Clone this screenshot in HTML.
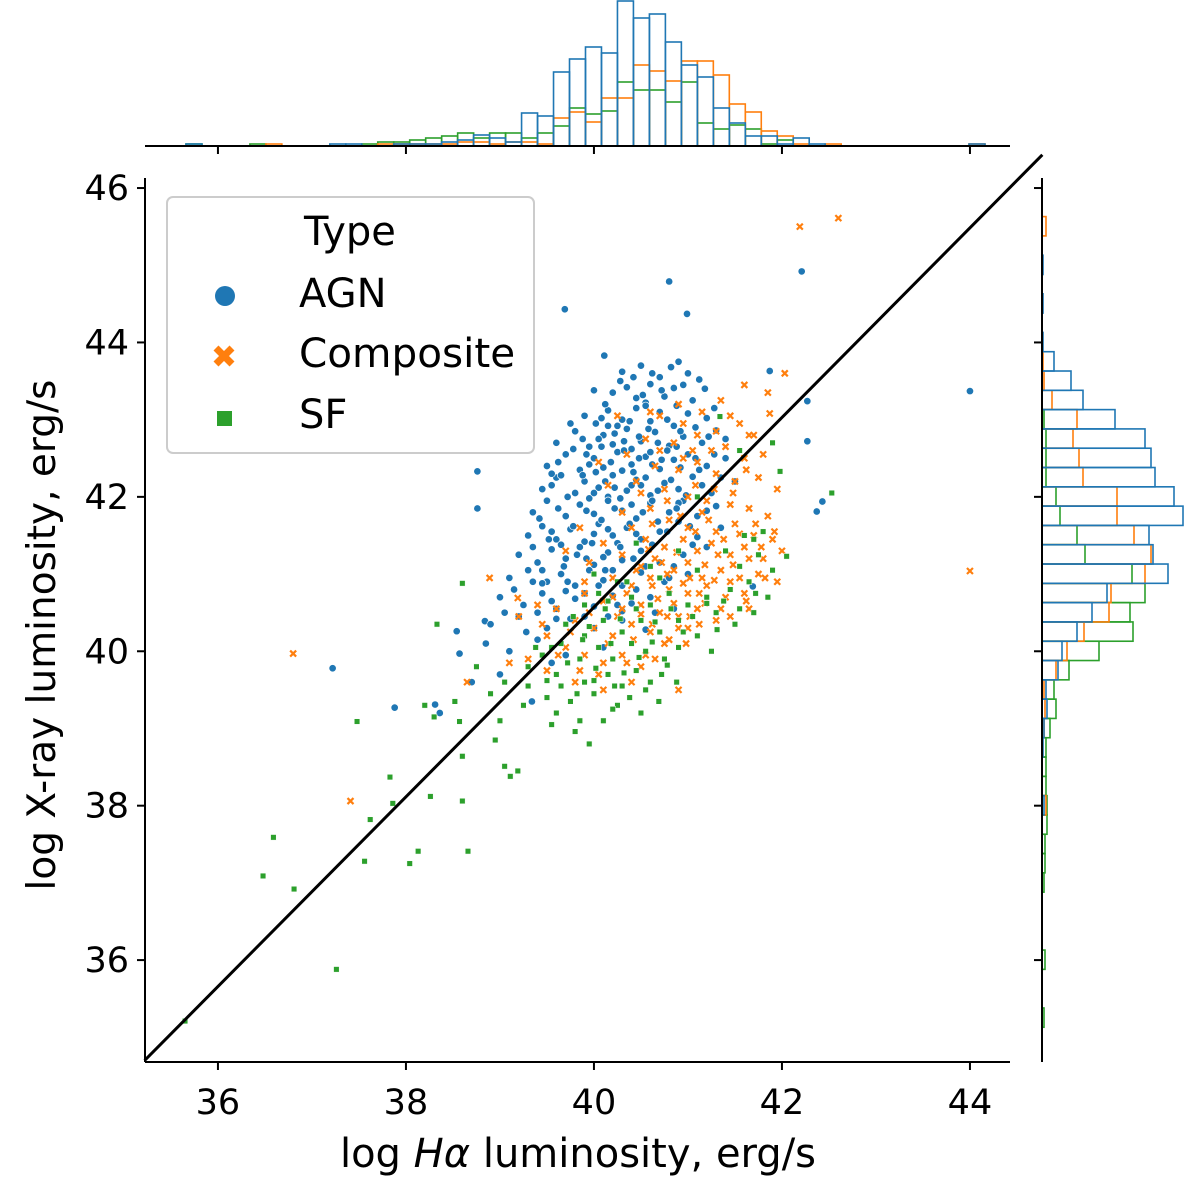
<!DOCTYPE html>
<html><head><meta charset="utf-8"><style>
html,body{margin:0;padding:0;background:#fff;}
svg text{font-family:"DejaVu Sans","Liberation Sans",sans-serif;fill:#000;}
</style></head><body>
<svg id="chart" width="1200" height="1180" viewBox="0 0 1200 1180" xmlns="http://www.w3.org/2000/svg">
<g id="tophist"></g>
<g id="righthist"></g>
<g id="points"></g>
<g id="axes"></g>
<g id="legend">
<rect x="167" y="197" width="367" height="256" rx="6" fill="#fff" fill-opacity="0.8" stroke="#cccccc" stroke-width="2"/>
<text x="304" y="245" font-size="40">Type</text>
<g><circle cx="225" cy="296" r="10" fill="#1f77b4"/><text x="299" y="307" font-size="40">AGN</text></g>
<g><path d="M216,348 L232,364 M232,348 L216,364" stroke="#ff7f0e" stroke-width="7"/><text x="299" y="367" font-size="40.5">Composite</text></g>
<g><rect x="217" y="411" width="15" height="15" fill="#2ca02c"/><text x="299" y="428" font-size="40">SF</text></g>
</g>
</svg>
<script>
// ---------- data ----------
const xTicks=[36,38,40,42,44];
const yTicks=[36,38,40,42,44,46];
const lineXs=[35.22,44.77];
const lineYs=[34.70,46.43];
// top histogram (x bins start 35.66, width 0.17), counts per bin
const topBinStart=35.66, topBinWidth=0.17;
const topAGN=[2,0,0,0,0,0,0,0,0,2,2,0,0,2,2,2,4,6,11,8,4,33,30,74,87,99,93,145,128,132,104,81,69,38,23,10,10,2,8,2,0,0,0,0,0,0,0,0,0,2];
const topComp=[0,0,0,0,0,2,0,0,0,0,0,0,2,2,2,2,2,4,4,2,4,4,2,28,34,24,48,48,81,75,65,85,85,71,42,34,15,10,2,0,2,0,0,0,0,0,0,0,0,2];
const topSF=[2,0,0,0,2,0,0,0,0,0,0,2,4,4,6,8,10,13,8,13,13,8,13,20,38,32,35,64,56,56,44,64,23,17,21,17,2,6,0,0,0,0,0,0,0,0,0,0,0,0];
// right histogram (y bins start 35.13, width 0.25)
const rightBinStart=35.13, rightBinWidth=0.25;
const rightAGN=[0,0,0,0,0,0,0,0,0,0,0,2,0,0,1,2,5,4,16,20,35,50,65,126,111,107,141,132,113,109,103,73,41,29,12,1,0,1,0,1,0,0];
const rightComp=[0,0,0,0,0,0,0,0,0,0,0,4,0,0,0,2,3,2,14,25,42,67,69,103,109,92,75,75,41,37,31,35,10,2,1,0,0,0,0,0,0,4];
const rightSF=[2,0,0,3,0,0,0,2,3,3,5,5,4,4,4,8,14,12,27,57,91,88,103,90,43,35,18,14,4,4,4,2,0,0,0,0,0,0,0,0,0,0];
// scatter points [log Halpha, log X-ray]
const agnPts=[[39.69,44.43],[40.80,44.79],[40.99,44.37],[40.11,43.83],[42.21,44.92],[44.0,43.37],[38.76,42.33],[38.76,41.85],[37.22,39.78],[37.88,39.27],[38.31,39.31],[38.36,39.20],[42.27,42.72],[42.27,43.24],[42.43,41.94],[42.37,41.81],[39.34,39.35],[38.57,39.97],[38.54,40.26],[38.84,40.39],[41.69,40.84],[41.87,43.63],
[40.3,43.62],[40.5,43.7],[40.7,43.55],[40.82,43.68],[41.0,43.6],[41.12,43.52],[40.9,43.75],
[40.2,43.35],[40.35,43.42],[40.45,43.28],[40.6,43.46],[40.75,43.3],[40.85,43.41],[41.05,43.25],[40.0,43.38],[40.55,43.22],
[39.9,43.05],[40.02,42.95],[40.15,43.12],[40.3,43.0],[40.45,43.15],[40.6,42.98],[40.7,43.1],[40.85,42.92],[41.0,43.08],[41.2,43.02],[40.25,42.92],[40.55,43.18],
[39.6,42.7],[39.8,42.85],[39.95,42.65],[40.1,42.8],[40.2,42.68],[40.35,42.88],[40.5,42.72],[40.65,42.84],[40.8,42.66],[40.95,42.78],[41.15,42.7],[41.3,42.86],[40.4,42.62],[40.05,42.75],
[39.5,42.4],[39.7,42.55],[39.85,42.35],[40.0,42.5],[40.1,42.38],[40.25,42.58],[40.4,42.42],[40.55,42.52],[40.7,42.36],[40.85,42.48],[41.0,42.55],[41.2,42.4],[41.4,42.5],[39.95,42.42],[40.3,42.34],[40.6,42.58],
[39.45,42.1],[39.6,42.25],[39.8,42.05],[39.9,42.2],[40.05,42.12],[40.2,42.28],[40.35,42.08],[40.45,42.22],[40.6,42.02],[40.75,42.18],[40.9,42.1],[41.05,42.26],[41.25,42.05],[41.5,42.2],[40.15,42.0],[40.5,42.15],
[39.35,41.8],[39.5,41.95],[39.7,41.75],[39.85,41.9],[40.0,41.78],[40.15,41.95],[40.3,41.82],[40.45,41.72],[40.6,41.92],[40.8,41.8],[40.95,41.95],[41.1,41.75],[41.3,41.88],[39.95,41.98],[40.4,41.9],
[39.3,41.5],[39.45,41.62],[39.6,41.45],[39.75,41.58],[39.9,41.42],[40.05,41.65],[40.2,41.5],[40.35,41.6],[40.5,41.45],[40.7,41.55],[40.9,41.68],[41.1,41.48],[41.35,41.6],[40.0,41.52],[40.25,41.4],
[39.2,41.25],[39.4,41.15],[39.55,41.32],[39.7,41.2],[39.85,41.35],[40.0,41.12],[40.15,41.28],[40.3,41.18],[40.5,41.3],[40.7,41.15],[40.95,41.25],[41.2,41.35],[39.65,41.38],[40.1,41.22],
[39.1,40.95],[39.3,41.05],[39.5,40.9],[39.65,41.0],[39.8,40.85],[39.95,41.05],[40.1,40.92],[40.3,40.85],[40.5,41.02],[40.75,40.9],[41.0,41.0],[39.45,40.88],[40.2,41.05],
[39.0,40.7],[39.25,40.6],[39.45,40.75],[39.6,40.55],[39.8,40.68],[40.0,40.58],[40.2,40.72],[40.4,40.62],[40.6,40.7],[40.85,40.55],[39.7,40.78],[40.3,40.52],
[38.9,40.35],[39.2,40.45],[39.5,40.3],[39.75,40.42],[40.0,40.3],[40.3,40.4],[40.55,40.28],[39.9,40.45],
[38.85,40.1],[39.1,40.0],[39.4,40.15],[39.7,39.95],[40.1,40.05],[39.55,39.85],[39.0,39.7],[38.7,39.6],
[40.42,43.55],[40.62,43.6],[40.95,43.45],[41.18,43.4],[40.28,43.5],[40.72,43.38],[40.12,43.2],[40.52,43.32],[40.88,43.18],[41.28,43.15],
[39.75,42.95],[40.08,43.02],[40.22,42.82],[40.38,42.98],[40.58,42.88],[40.78,43.0],[40.92,42.85],[41.08,42.9],[41.22,42.78],[39.88,42.75],[40.48,42.78],[40.68,42.7],[40.32,42.72],[40.15,42.92],[41.4,42.75],
[39.62,42.45],[39.78,42.62],[39.92,42.55],[40.08,42.65],[40.18,42.45],[40.32,42.6],[40.48,42.5],[40.62,42.42],[40.78,42.6],[40.92,42.38],[41.08,42.5],[41.28,42.55],[39.55,42.3],[40.42,42.32],[40.72,42.48],[40.02,42.32],[40.88,42.65],[41.12,42.35],
[39.55,42.15],[39.72,42.0],[39.88,42.28],[40.0,42.05],[40.12,42.2],[40.28,41.98],[40.4,42.15],[40.55,42.25],[40.68,42.08],[40.82,42.22],[40.98,42.02],[41.15,42.15],[41.35,42.25],[39.65,42.28],[40.22,42.12],[40.62,41.95],[40.9,41.92],
[39.42,41.72],[39.62,41.85],[39.78,41.62],[39.92,41.82],[40.08,41.7],[40.22,41.85],[40.38,41.65],[40.52,41.8],[40.68,41.68],[40.88,41.85],[41.02,41.62],[41.2,41.82],[39.55,41.55],[40.15,41.58],[40.45,41.52],[40.78,41.55],
[39.35,41.35],[39.52,41.45],[39.68,41.1],[39.82,41.25],[39.98,41.4],[40.12,41.05],[40.28,41.35],[40.42,41.2],[40.62,41.38],[40.85,41.1],[41.05,41.38],[39.45,41.05],[39.92,41.2],[40.55,41.1],
[39.15,40.8],[39.35,40.9],[39.55,40.65],[39.72,40.9],[39.9,40.75],[40.05,40.85],[40.25,40.6],[40.45,40.8],[40.65,40.5],[40.8,40.95],[39.4,40.5],[39.6,40.42],[40.15,40.45],[39.28,40.25],[39.05,40.5]];
const compPts=[[36.80,39.97],[37.41,38.06],[42.19,45.5],[42.60,45.61],[44.0,41.04],[42.03,43.6],[41.87,43.08],[38.89,40.95],[39.19,40.69],[38.65,39.6],[39.1,39.85],[41.85,43.35],[41.6,43.45],[41.35,43.25],
[40.7,43.05],[40.95,42.95],[41.15,43.1],[41.3,42.85],[41.55,42.95],[41.7,42.8],[40.55,42.75],[40.85,42.7],[41.05,42.6],[41.4,42.65],[41.6,42.5],[41.8,42.55],
[40.65,42.4],[40.9,42.35],[41.1,42.45],[41.3,42.3],[41.5,42.2],[41.75,42.25],[41.95,42.1],[40.45,42.2],[40.75,42.1],[41.0,42.0],[41.2,41.95],[41.45,41.9],[41.65,41.85],[41.85,41.75],
[40.6,41.85],[40.8,41.7],[41.0,41.6],[41.15,41.8],[41.3,41.55],[41.5,41.65],[41.7,41.5],[41.9,41.45],[40.4,41.6],[40.55,41.45],[40.75,41.35],[40.95,41.45],[41.1,41.3],[41.25,41.4],[41.45,41.25],[41.6,41.35],[41.8,41.2],[42.0,41.3],
[40.3,41.25],[40.5,41.1],[40.65,41.2],[40.85,41.05],[41.0,41.15],[41.15,40.95],[41.35,41.05],[41.55,40.95],[41.75,41.0],[40.2,40.95],[40.4,40.85],[40.6,40.95],[40.8,40.8],[41.0,40.75],[41.2,40.85],[41.4,40.7],[41.6,40.75],
[39.9,40.75],[40.1,40.65],[40.3,40.55],[40.5,40.6],[40.7,40.5],[40.9,40.45],[41.1,40.55],[41.3,40.4],[39.6,40.55],[39.8,40.4],[40.0,40.3],[40.2,40.2],[40.4,40.35],[40.6,40.25],[40.8,40.15],[41.0,40.3],
[39.5,40.2],[39.7,40.05],[39.9,39.95],[40.1,39.85],[40.3,39.95],[40.5,39.8],[39.3,39.9],[39.5,39.75],[39.8,39.6],[40.1,39.5],[40.4,39.6],[40.65,39.9],[39.2,40.45],[39.4,40.6],[39.7,41.3],[39.85,41.6],[40.05,42.45],[40.25,43.05],[40.15,42.15],[39.95,41.15],[41.45,40.45],[41.65,40.55],[40.9,39.5],
[40.62,41.65],[40.78,41.95],[40.92,41.75],[41.08,41.55],[41.22,41.7],[41.38,41.45],[41.55,41.52],[41.72,41.65],[41.08,42.15],[41.28,42.1],[41.48,42.05],[41.62,42.35],[40.95,42.5],[41.25,42.6],
[40.45,41.05],[40.58,41.32],[40.72,41.15],[40.88,41.28],[41.02,40.95],[41.18,41.12],[41.32,41.25],[41.48,41.12],[41.65,41.2],[41.82,40.95],[40.62,40.85],[40.78,41.0],[40.95,40.88],[41.12,40.75],[41.28,40.92],[41.45,40.9],[41.62,40.65],
[40.35,40.75],[40.5,40.48],[40.68,40.68],[40.85,40.62],[41.02,40.45],[41.18,40.62],[41.35,40.55],[40.25,40.45],[40.42,40.15],[40.62,40.35],[40.78,40.45],[40.98,40.1],[41.12,40.35],
[39.75,40.25],[39.95,40.5],[40.15,40.1],[40.35,39.85],[40.55,39.95],[40.75,40.1],[39.62,39.95],[39.85,39.75],[40.05,39.7],[39.45,40.35],[39.9,40.9],[40.1,41.4],[40.3,41.8],[40.5,42.05],[40.7,42.6],[40.35,42.55],[40.6,43.1],[40.9,43.2],[41.1,42.8],[41.45,43.05],[41.65,42.8],
[41.92,41.55],[41.95,40.9],[41.78,41.35],[40.9,40.3],[40.2,40.7]];
const sfPts=[[35.65,35.21],[36.48,37.09],[36.59,37.59],[36.81,36.92],[37.26,35.88],[37.48,39.09],[37.56,37.28],[37.62,37.82],[37.83,38.37],[37.86,38.03],[38.04,37.25],[38.13,37.41],[38.26,38.12],[38.33,40.35],[38.60,38.06],[38.66,37.41],[38.57,39.09],[38.60,38.64],[39.05,38.51],[39.11,38.38],[39.19,38.45],[38.52,39.35],[38.60,40.88],[39.80,38.96],[40.69,39.35],[41.31,40.28],[42.53,42.05],[42.05,41.23],[41.98,42.33],[41.34,43.04],[38.2,39.3],[38.3,39.15],[38.9,39.45],[39.0,39.1],[38.75,39.8],
[39.3,39.55],[39.5,39.4],[39.6,39.7],[39.75,39.35],[39.9,39.6],[40.0,39.45],[40.15,39.7],[40.3,39.55],[40.45,39.75],[40.6,39.6],[39.45,39.95],[39.65,40.1],[39.85,39.9],[40.05,40.05],[40.2,39.9],[40.4,40.1],[40.55,40.0],[40.75,39.9],[40.9,40.05],
[39.7,40.35],[39.9,40.2],[40.1,40.4],[40.3,40.25],[40.5,40.4],[40.7,40.25],[40.9,40.4],[41.1,40.2],[41.3,40.5],[41.5,40.35],[39.6,39.2],[40.25,39.3],[40.5,39.2],[39.95,38.8],[40.1,39.1],
[40.6,40.6],[40.8,40.75],[41.0,40.6],[41.2,40.7],[41.45,40.8],[41.65,40.9],[41.85,40.7],[41.55,41.1],[41.75,41.25],[41.9,41.05],[41.7,41.45],[40.4,40.7],[40.15,40.65],[39.9,40.6],[40.25,40.9],[40.6,41.1],[40.0,41.0],[40.45,41.4],[41.1,42.0],[41.55,42.6],[41.9,42.7],[39.3,39.8],[39.05,39.6],[41.25,40.0],[41.7,40.5],
[39.55,40.05],[39.72,39.85],[39.88,40.15],[40.02,39.78],[40.18,40.1],[40.32,39.72],[40.48,39.92],[40.62,40.12],[40.78,39.82],[40.95,40.25],[39.65,39.55],[39.82,39.45],[40.0,39.62],[40.22,39.55],[40.38,39.4],[40.55,39.5],[40.72,39.7],[40.88,39.6],
[39.78,40.45],[39.95,40.32],[40.12,40.55],[40.28,40.42],[40.45,40.55],[40.65,40.38],[40.82,40.55],[41.05,40.45],[41.2,40.62],[41.38,40.65],[41.55,40.55],[41.72,40.75],[39.5,39.62],[39.38,40.05],[40.05,40.75],[40.35,40.9],[40.7,40.95],[40.9,41.3],[41.1,41.05],[41.4,41.3],[41.6,41.5],[41.8,41.55],[40.2,39.25],[39.85,39.1],[39.25,39.3],[38.95,38.85],[39.55,39.05]];

// ---------- scales ----------
const NS='http://www.w3.org/2000/svg';
const X0=145,X1=1010,Y0=178,Y1=1062;
const xMin=35.224,xMax=44.426,yMin=34.68,yMax=46.13;
const sx=v=>X0+(v-xMin)/(xMax-xMin)*(X1-X0);
const sy=v=>Y1-(v-yMin)/(yMax-yMin)*(Y1-Y0);
const C={agn:'#1f77b4',comp:'#ff7f0e',sf:'#2ca02c'};
function mk(tag,attrs,parent){const e=document.createElementNS(NS,tag);for(const k in attrs)e.setAttribute(k,attrs[k]);parent.appendChild(e);return e;}

// ---------- top histogram ----------
const th=document.getElementById('tophist');
const TB=146, topScale=1;
function topSeries(arr,color,name){
  arr.forEach((c,i)=>{ if(!c) return;
    const x0=sx(topBinStart+i*topBinWidth), x1=sx(topBinStart+(i+1)*topBinWidth);
    const r=mk('rect',{x:x0,y:TB-c*topScale,width:x1-x0,height:c*topScale,fill:'none',stroke:color,'stroke-width':1.6},th);
    
    
  });
}
topSeries(topSF,C.sf,'top-hist-bar-sf');
topSeries(topComp,C.comp,'top-hist-bar-composite');
topSeries(topAGN,C.agn,'top-hist-bar-agn');
const tsp=mk('line',{x1:X0,y1:TB,x2:X1,y2:TB,stroke:'#000','stroke-width':2},th);


xTicks.forEach(t=>{const l=mk('line',{x1:sx(t),y1:TB,x2:sx(t),y2:TB+8,stroke:'#000','stroke-width':2},th);
  
  });

// ---------- right histogram ----------
const rh=document.getElementById('righthist');
const RB=1042, rightScale=1;
function rightSeries(arr,color,name){
  arr.forEach((c,i)=>{ if(!c) return;
    const yA=sy(rightBinStart+(i+1)*rightBinWidth), yB=sy(rightBinStart+i*rightBinWidth);
    const r=mk('rect',{x:RB,y:yA,width:c*rightScale,height:yB-yA,fill:'none',stroke:color,'stroke-width':1.6},rh);
    
    
  });
}
rightSeries(rightSF,C.sf,'right-hist-bar-sf');
rightSeries(rightComp,C.comp,'right-hist-bar-composite');
rightSeries(rightAGN,C.agn,'right-hist-bar-agn');
const rsp=mk('line',{x1:RB,y1:Y0,x2:RB,y2:Y1,stroke:'#000','stroke-width':2},rh);


yTicks.forEach(t=>{const l=mk('line',{x1:RB-8,y1:sy(t),x2:RB,y2:sy(t),stroke:'#000','stroke-width':2},rh);
  
  });

// ---------- scatter ----------
const pg=document.getElementById('points');
agnPts.forEach(p=>{const c=mk('circle',{cx:sx(p[0]),cy:sy(p[1]),r:3.7,fill:C.agn,stroke:'#fff','stroke-width':0.7},pg);
  
  });
compPts.forEach(p=>{const x=sx(p[0]),y=sy(p[1]),d=3;
  const c=mk('path',{d:`M${x-d},${y-d}L${x+d},${y+d}M${x+d},${y-d}L${x-d},${y+d}`,stroke:C.comp,'stroke-width':2.2},pg);
  
  });
sfPts.forEach(p=>{const c=mk('rect',{x:sx(p[0])-2.8,y:sy(p[1])-2.8,width:5.6,height:5.6,fill:C.sf,stroke:'#fff','stroke-width':0.5},pg);
  
  });

// ---------- axes ----------
const ax=document.getElementById('axes');
const fit=mk('line',{x1:sx(lineXs[0]),y1:sy(lineYs[0]),x2:sx(lineXs[1]),y2:sy(lineYs[1]),stroke:'#000','stroke-width':3},ax);


const ls=mk('line',{x1:X0,y1:Y0,x2:X0,y2:Y1,stroke:'#000','stroke-width':2},ax);


const bs=mk('line',{x1:X0,y1:Y1,x2:X1,y2:Y1,stroke:'#000','stroke-width':2},ax);


xTicks.forEach(t=>{
  const l=mk('line',{x1:sx(t),y1:Y1,x2:sx(t),y2:Y1+8,stroke:'#000','stroke-width':2},ax);
  
  
  const tx=mk('text',{x:sx(t),y:Y1+52,'font-size':35,'text-anchor':'middle'},ax);
  tx.textContent=String(t);
  
  
});
yTicks.forEach(t=>{
  const l=mk('line',{x1:X0-8,y1:sy(t),x2:X0,y2:sy(t),stroke:'#000','stroke-width':2},ax);
  
  
  const tx=mk('text',{x:X0-16,y:sy(t)+12,'font-size':35,'text-anchor':'end'},ax);
  tx.textContent=String(t);
  
  
});
const xl=mk('text',{x:578,y:1167,'font-size':40,'text-anchor':'middle'},ax);
xl.innerHTML='log <tspan font-style="italic">Hα</tspan> luminosity, erg/s';


const yl=mk('text',{x:0,y:0,'font-size':39,'text-anchor':'middle',transform:'translate(55,635) rotate(-90)'},ax);
yl.textContent='log X-ray luminosity, erg/s';


// keep legend on top
document.getElementById('chart').appendChild(document.getElementById('legend'));
</script>
</body></html>
